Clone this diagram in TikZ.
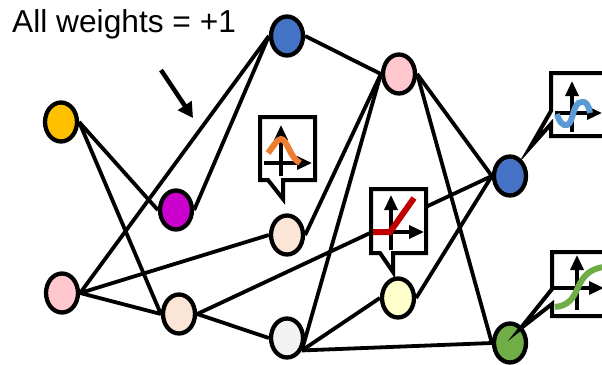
\documentclass[tikz,border=0pt]{standalone}
\usepackage{fontspec}
\setmainfont{Liberation Sans}
\usetikzlibrary{shapes.geometric,backgrounds,arrows.meta}
\definecolor{cyellow}{HTML}{FFC000}
\definecolor{cmagenta}{HTML}{CC00CC}
\definecolor{cpink}{HTML}{FFC7CE}
\definecolor{cblue}{HTML}{4472C4}
\definecolor{cpeach}{HTML}{FBE5D6}
\definecolor{cgrey}{HTML}{F2F2F2}
\definecolor{clight}{HTML}{FFFFCC}
\definecolor{cgreen}{HTML}{70AD47}
\definecolor{corange}{HTML}{ED7D31}
\definecolor{cred}{HTML}{C00000}
\definecolor{csky}{HTML}{5B9BD5}
\tikzset{
  neuron/.style={ellipse,draw=black,line width=4.3pt,inner sep=0pt,minimum width=32pt,minimum height=39pt},
  edge/.style={line width=3.8pt,black},
  callout/.style={draw=black,fill=white,line width=4pt,miter limit=15},
  axis/.style={line width=3.2pt,black,-{Triangle[length=15pt,width=13pt]}},
  curve/.style={line width=6pt}
}
\begin{document}
\begin{tikzpicture}[x=1pt,y=-1pt]
\clip (0,0) rectangle (602,364);
\node[anchor=west,font=\fontsize{31.7}{34}\selectfont,inner sep=0pt] (label) at (12,24) {All weights = +1};
% callouts whose tail lies under the node
\draw[callout] (260,117) -- (315,117) -- (315,180) -- (283,180) -- (283,199) -- (268,180) -- (260,180) -- cycle;
\draw[axis] (281,176) -- (281,125);
\draw[axis] (264,163) -- (312,163);
\draw[curve,corange] (268,153) .. controls (273,147) and (277,139) .. (281,139) .. controls (287,139) and (290,158) .. (300,163);
\draw[callout] (371,189) -- (426,189) -- (426,253) -- (393,253) -- (393,272) -- (380,253) -- (371,253) -- cycle;
\draw[axis] (391,250) -- (391,195);
\draw[axis] (373,232) -- (424,232);
\draw[curve,cred] (373,232) -- (390,232) -- (414,198);
\node[neuron,fill=cyellow] (a) at (61,122) {};
\node[neuron,fill=cmagenta] (b) at (176,210) {};
\node[neuron,fill=cpink] (c) at (62,293) {};
\node[neuron,fill=cpeach] (d) at (179,314) {};
\node[neuron,fill=cblue] (e) at (287,36) {};
\node[neuron,fill=cpeach] (f) at (287,235) {};
\node[neuron,fill=cgrey] (g) at (287,338) {};
\node[neuron,fill=cpink] (h) at (399,74) {};
\node[neuron,fill=clight] (i) at (398,298) {};
\node[neuron,fill=cblue] (j) at (510,176) {};
\node[neuron,fill=cgreen] (k) at (510,343) {};
\begin{pgfonlayer}{background}
\draw[edge] (a.east) -- (b.west);
\draw[edge] (a.east) -- (d.west);
\draw[edge] (c.east) -- (e.west);
\draw[edge] (c.east) -- (f.west);
\draw[edge] (c.east) -- (d.west);
\draw[edge] (b.east) -- (e.west);
\draw[edge] (d.east) -- (g.west);
\draw[edge] (d.east) -- (j.west);
\draw[edge] (e.east) -- (h.west);
\draw[edge] (f.east) -- (h.west);
\draw[edge] (g.-40) -- (h.west);
\draw[edge] (g.-40) -- (i.west);
\draw[edge] (g.-40) -- (k.west);
\draw[edge] (h.east) -- (j.west);
\draw[edge] (h.east) -- (k.west);
\draw[edge] (i.east) -- (j.west);
\end{pgfonlayer}
\coordinate (arrowstart) at (161,70);
\coordinate (arrowend) at (193,118);
\draw[line width=4.5pt,-{Triangle[length=15pt,width=16pt]}] (arrowstart) -- (arrowend);
% blue callout
\draw[callout] (551,73) -- (620,73) -- (620,136) -- (551,136) -- (551,124) -- (530,147.5) -- (551,111) -- cycle;
\draw[axis] (572,132) -- (572,81);
\draw[axis] (555,113) -- (602,113);
\draw[curve,csky] (557,114) .. controls (559,122) and (563,126) .. (567,125) .. controls (574,123) and (572,102) .. (582,102) .. controls (586,101) and (589,106) .. (590,113);
% green callout
\draw[callout] (552,252) -- (620,252) -- (620,316) -- (552,316) -- (552,304) -- (520,329) -- (552,289) -- cycle;
\draw[axis] (577,310) -- (577,255);
\draw[axis] (552,288) -- (604,288);
\draw[curve,cgreen] (555,307) .. controls (575,305) and (575,290) .. (582,280) .. controls (587,272) and (595,268) .. (604,267);
\end{tikzpicture}
\end{document}
